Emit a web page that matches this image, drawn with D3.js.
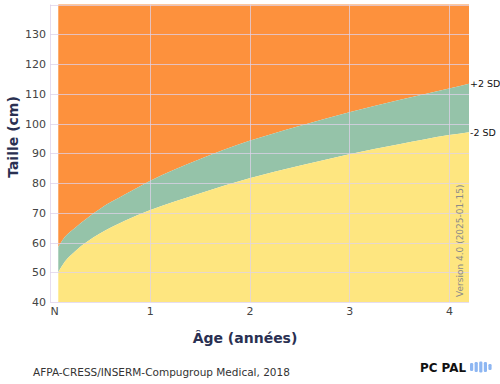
<!DOCTYPE html>
<html>
<head>
<meta charset="utf-8">
<script src="https://cdn.jsdelivr.net/npm/d3@7"></script>
<style>
  body { margin: 0; background: #fff; }
  text { font-family: "DejaVu Sans", Verdana, sans-serif; }
</style>
</head>
<body>
<div id="chart"></div>
<script>
// reference curves (age in years, height in cm)
const ages = [0.083, 0.15, 0.25, 0.5, 0.75, 1, 1.5, 2, 2.5, 3, 3.5, 4, 4.2];
const plus2sd = [58.5, 61.9, 64.9, 71.3, 76.1, 80.7, 88.0, 94.2, 99.2, 103.8, 107.9, 111.8, 113.4];
const minus2sd = [50.0, 53.6, 57.0, 63.0, 67.3, 70.8, 76.5, 81.6, 85.8, 89.7, 93.0, 96.1, 97.1];
const xTicks = [0, 1, 2, 3, 4];
const xTickLabels = ["N", "1", "2", "3", "4"];
const yTicks = [40, 50, 60, 70, 80, 90, 100, 110, 120, 130];

const W = 500, H = 384;
const margin = { top: 4.5, right: 31, bottom: 82, left: 50 };

const svg = d3.select("#chart").append("svg")
  .attr("width", W).attr("height", H);

const x = d3.scaleLinear().domain([0, 4.2]).range([margin.left, W - margin.right]);
const y = d3.scaleLinear().domain([40, 140]).range([H - margin.bottom, margin.top]);

const data = ages.map((a, i) => ({ age: a, hi: plus2sd[i], lo: minus2sd[i] }));
const curve = d3.curveMonotoneX;

// orange: above +2 SD
svg.append("path").datum(data)
  .attr("fill", "#fd913d")
  .attr("d", d3.area().curve(curve).x(d => x(d.age)).y0(y(140)).y1(d => y(d.hi)));
// green: between -2 SD and +2 SD
svg.append("path").datum(data)
  .attr("fill", "#95c3a9")
  .attr("d", d3.area().curve(curve).x(d => x(d.age)).y0(d => y(d.lo)).y1(d => y(d.hi)));
// yellow: below -2 SD
svg.append("path").datum(data)
  .attr("fill", "#fee680")
  .attr("d", d3.area().curve(curve).x(d => x(d.age)).y0(y(40)).y1(d => y(d.lo)));

// grid
const grid = svg.append("g").attr("stroke", "#ddd2ea").attr("stroke-opacity", 0.75).attr("stroke-width", 1);
grid.selectAll("line.h").data(yTicks.concat([140])).join("line")
  .attr("x1", x(0)).attr("x2", x(4.2))
  .attr("y1", d => Math.round(y(d)) + 0.5).attr("y2", d => Math.round(y(d)) + 0.5);
grid.selectAll("line.v").data(xTicks).join("line")
  .attr("y1", y(140)).attr("y2", y(40))
  .attr("x1", d => Math.round(x(d)) + 0.5).attr("x2", d => Math.round(x(d)) + 0.5);

// axes
const yAxis = svg.append("g")
  .attr("transform", `translate(${x(0)},0)`)
  .call(d3.axisLeft(y).tickValues(yTicks).tickSize(0).tickPadding(4));
const xAxis = svg.append("g")
  .attr("transform", `translate(0,${y(40)})`)
  .call(d3.axisBottom(x).tickValues(xTicks).tickFormat((d, i) => xTickLabels[i]).tickSize(0).tickPadding(5));
[xAxis, yAxis].forEach(g => {
  g.select(".domain").remove();
  g.selectAll("text").attr("fill", "#444").style("font-size", "11px")
    .style("font-family", "'DejaVu Sans', Verdana, sans-serif");
});
xAxis.select(".tick text").attr("dx", 4);

// curve labels
svg.append("text").attr("x", x(4.2) + 1).attr("y", y(plus2sd[plus2sd.length - 1]) + 3.5)
  .style("font-size", "9.5px").attr("fill", "#111").text("+2 SD");
svg.append("text").attr("x", x(4.2) + 1).attr("y", y(minus2sd[minus2sd.length - 1]) + 3.5)
  .style("font-size", "9.5px").attr("fill", "#111").text("-2 SD");

// version stamp
svg.append("text")
  .attr("transform", `translate(${x(4.2) - 6},${y(40) - 5}) rotate(-90)`)
  .style("font-size", "9px").attr("fill", "#8a8a8a")
  .text("Version 4.0 (2025-01-15)");

// titles
svg.append("text")
  .attr("transform", "translate(18,137) rotate(-90)")
  .attr("text-anchor", "middle")
  .style("font-size", "14px").style("font-weight", "bold").attr("fill", "#2a3052")
  .text("Taille (cm)");
svg.append("text")
  .attr("x", 245).attr("y", 343)
  .attr("text-anchor", "middle")
  .style("font-size", "14px").style("font-weight", "bold").attr("fill", "#2a3052")
  .text("Âge (années)");

// source
svg.append("text")
  .attr("x", 33).attr("y", 376)
  .style("font-size", "10.5px").attr("fill", "#333")
  .text("AFPA-CRESS/INSERM-Compugroup Medical, 2018");

// logo
svg.append("text")
  .attr("x", 420).attr("y", 372)
  .attr("textLength", 46).attr("lengthAdjust", "spacingAndGlyphs")
  .style("font-size", "13px").style("font-weight", "bold").attr("fill", "#111")
  .text("PC PAL");
const bars = [8, 10, 11, 10, 6];
svg.append("g").selectAll("rect").data(bars).join("rect")
  .attr("x", (d, i) => 470 + i * 4.6).attr("width", 3.2)
  .attr("y", d => 367 - d / 2).attr("height", d => d)
  .attr("rx", 1.2).attr("fill", "#8db6f2");
</script>
</body>
</html>
